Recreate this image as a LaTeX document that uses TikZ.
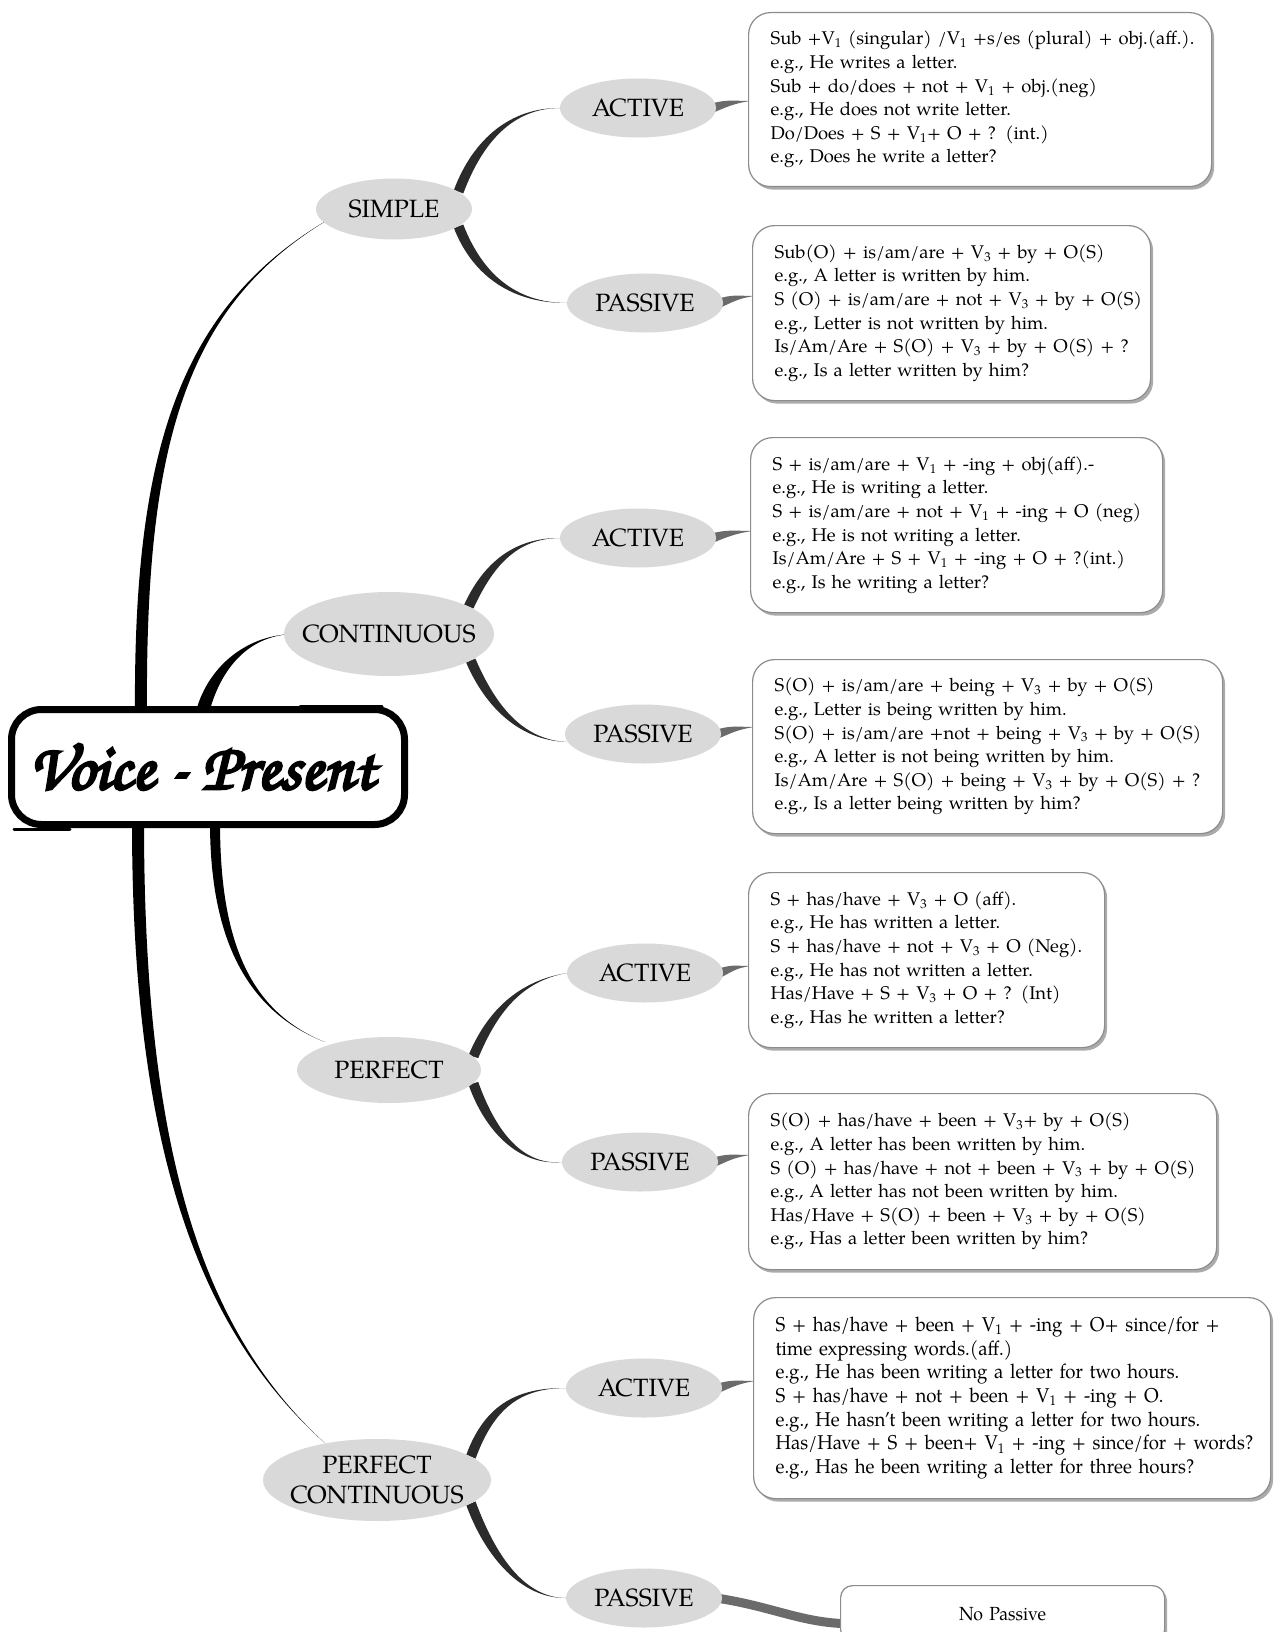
\documentclass[tikz,border=0pt]{standalone}
\usepackage{fontspec}
\setmainfont{texgyrepagella-regular.otf}[BoldFont=texgyrepagella-bold.otf,ItalicFont=texgyrepagella-italic.otf]
\newfontfamily\titlefont{texgyrechorus-mediumitalic.otf}[FakeBold=4]
\newfontfamily\condfont{texgyrepagella-regular.otf}[FakeStretch=0.93]
\usetikzlibrary{shapes.geometric,shadows,calc}
\pgfdeclarelayer{bg}
\pgfsetlayers{bg,main}
\definecolor{ellgray}{HTML}{D9D9D9}
\definecolor{subgray}{HTML}{2B2B2B}
\definecolor{horngray}{HTML}{6B6B6B}
\newcommand\Vs[1]{V\textsubscript{#1}}
\newcommand\bl[1]{\mbox{#1}}
% tapered branch: #1 style, #2 start, #3 c1, #4 c2, #5 end, #6 half-width offset
\newcommand\taper[6]{%
  \fill[#1] ($#2+#6$) .. controls ($#3+#6$) and ($#4+0.2*#6$) .. #5
     .. controls ($#4-0.2*#6$) and ($#3-#6$) .. ($#2-#6$) -- cycle;}
% short grey horn from ellipse #1 to box #2
\newcommand\horn[2]{%
  \fill[horngray] ($(#1.east)+(-6,-4)$) .. controls ($(#1.east)+(10,-9)$) and ($(#1.east -| #2.west)+(-14,-7)$)
     .. ($(#1.east -| #2.west)+(3,-7)$) .. controls ($(#1.east -| #2.west)+(-14,-5)$) and ($(#1.east)+(8,0)$)
     .. ($(#1.east)+(-6,6)$) -- cycle;}
\begin{document}
\begin{tikzpicture}[x=1pt,y=-1pt,
  ell/.style={ellipse, fill=ellgray, inner xsep=-16pt, inner ysep=-8pt, minimum width=156pt, minimum height=59pt,
     font=\fontsize{25}{30}\selectfont, align=center},
  tbox/.style={rectangle, rounded corners=22pt, fill=white, draw=black!45, line width=1.2pt,
     drop shadow={shadow xshift=2.5pt, shadow yshift=-3pt, fill=black!55, opacity=0.6},
     anchor=north west, inner xsep=22pt, inner ysep=0pt, align=left,
     font=\fontsize{18.4}{23.6}\selectfont},
  titlebox/.style={rectangle, rounded corners=30pt, draw=black, fill=white, line width=7pt,
     minimum width=393pt, minimum height=115pt, inner sep=0pt,
     font=\titlefont\fontsize{66}{70}\selectfont},
  mainbr/.style={fill=black},
  subbr/.style={fill=subgray}]

\begin{pgfonlayer}{bg}
\fill[white] (0,0) rectangle (1281,1632);
\end{pgfonlayer}
\useasboundingbox (0,0) rectangle (1281,1632);

% ---------- title ----------
\node[titlebox] (title) at (208,767) {\raisebox{-4pt}{Voice - Present}\hspace*{12pt}};
\draw[line width=3pt, line cap=round] (300,706) -- (382,706);
\draw[line width=3pt, line cap=round] (14,829) -- (70,829);
\coordinate (r1) at (141,714);
\coordinate (r2) at (202,714);
\coordinate (r3) at (215,822);
\coordinate (r4) at (138,822);

% ---------- ellipses ----------
\node[ell, minimum width=156pt, minimum height=61pt] (simple) at (394,209) {SIMPLE};
\node[ell, minimum width=210pt, minimum height=84pt] (cont) at (389,634) {CONTINUOUS};
\node[ell, minimum width=184pt, minimum height=66pt] (perf) at (389,1070) {PERFECT};
\node[ell, minimum width=228pt, minimum height=82pt] (pc) at (377,1480) {PERFECT\\CONTINUOUS};
\node[ell] (act1) at (638,108) {ACTIVE};
\node[ell] (pas1) at (645,303) {PASSIVE};
\node[ell] (act2) at (638,538) {ACTIVE};
\node[ell] (pas2) at (643,734) {PASSIVE};
\node[ell] (act3) at (645,973) {ACTIVE};
\node[ell] (pas3) at (640,1162) {PASSIVE};
\node[ell] (act4) at (644,1388) {ACTIVE};
\node[ell] (pas4) at (644,1598) {PASSIVE};

% ---------- boxes ----------
\node[tbox, minimum width=463pt, minimum height=174pt, text width=419pt] (b1) at (748,12) {%
\bl{Sub +\Vs1 (singular) /\Vs1 +s/es (plural) + obj.(aff.).}\\
\bl{e.g., He writes a letter.}\\
\bl{Sub + do/does + not + \Vs1 + obj.(neg)}\\
\bl{e.g., He does not write letter.}\\
\bl{Do/Does + S + \Vs1+ O + ? (int.)}\\
\bl{e.g., Does he write a letter?}};

\node[tbox, minimum width=398pt, minimum height=175pt, text width=354pt] (b2) at (752,225) {%
\bl{Sub(O) + is/am/are + \Vs3 + by + O(S)}\\
\bl{e.g., A letter is written by him.}\\
\bl{S (O) + is/am/are + not + \Vs3 + by + O(S)}\\
\bl{e.g., Letter is not written by him.}\\
\bl{Is/Am/Are + S(O) + \Vs3 + by + O(S) + ?}\\
\bl{e.g., Is a letter written by him?}};

\node[tbox, minimum width=412pt, minimum height=175pt, text width=368pt] (b3) at (750,437) {%
\bl{S + is/am/are + \Vs1 + -ing + obj(aff).-}\\
\bl{e.g., He is writing a letter.}\\
\bl{S + is/am/are + not + \Vs1 + -ing + O (neg)}\\
\bl{e.g., He is not writing a letter.}\\
\bl{Is/Am/Are + S + \Vs1 + -ing + O + ?(int.)}\\
\bl{e.g., Is he writing a letter?}};

\node[tbox, minimum width=470pt, minimum height=174pt, text width=426pt] (b4) at (752,659) {%
\bl{S(O) + is/am/are + being + \Vs3 + by + O(S)}\\
\bl{e.g., Letter is being written by him.}\\
\bl{S(O) + is/am/are +not + being + \Vs3 + by + O(S)}\\
\bl{e.g., A letter is not being written by him.}\\
\bl{Is/Am/Are + S(O) + being + \Vs3 + by + O(S) + ?}\\
\bl{e.g., Is a letter being written by him?}};

\node[tbox, minimum width=356pt, minimum height=175pt, text width=312pt] (b5) at (748,872) {%
\bl{S + has/have + \Vs3 + O (aff).}\\
\bl{e.g., He has written a letter.}\\
\bl{S + has/have + not + \Vs3 + O (Neg).}\\
\bl{e.g., He has not written a letter.}\\
\bl{Has/Have + S + \Vs3 + O + ? (Int)}\\
\bl{e.g., Has he written a letter?}};

\node[tbox, minimum width=468pt, minimum height=176pt, text width=424pt] (b6) at (748,1093) {%
\bl{S(O) + has/have + been + \Vs3+ by + O(S)}\\
\bl{e.g., A letter has been written by him.}\\
\bl{S (O) + has/have + not + been + \Vs3 + by + O(S)}\\
\bl{e.g., A letter has not been written by him.}\\
\bl{Has/Have + S(O) + been + \Vs3 + by + O(S)}\\
\bl{e.g., Has a letter been written by him?}};

\node[tbox, minimum width=517pt, minimum height=201pt, text width=473pt,
      font=\condfont\fontsize{20}{23.7}\selectfont] (b7) at (753,1297) {%
\bl{S + has/have + been + \Vs1 + -ing + O+ since/for +}\\
\bl{time expressing words.(aff.)}\\
\bl{e.g., He has been writing a letter for two hours.}\\
\bl{S + has/have + not + been + \Vs1 + -ing + O.}\\
\bl{e.g., He hasn’t been writing a letter for two hours.}\\
\bl{Has/Have + S + been+ \Vs1 + -ing + since/for + words?}\\
\bl{e.g., Has he been writing a letter for three hours?}};

\node[tbox, minimum width=324pt, minimum height=56pt, text width=280pt, align=center,
      rounded corners=12pt, font=\condfont\fontsize{19}{24}\selectfont] (b8) at (840,1585) {No Passive};

% ---------- connectors (background) ----------
\begin{pgfonlayer}{bg}
\taper{mainbr}{(r1)}{(139,440)}{(185,300)}{($(simple.west)+(22,5)$)}{(6,0)}
\taper{mainbr}{(r2)}{(213,670)}{(245,636)}{($(cont.west)+(8,0)$)}{(6.5,1)}
\taper{mainbr}{(r3)}{(215,935)}{(245,1010)}{($(perf.west)+(28,-28)$)}{(5,0)}
\taper{mainbr}{(r4)}{(138,1150)}{(200,1330)}{($(pc.west)+(62,-37)$)}{(6,0)}

\taper{subbr}{(simple.15)}{(478,140)}{(512,108)}{(act1.west)}{(4.7,1.7)}
\taper{subbr}{(simple.-15)}{(478,276)}{(515,303)}{(pas1.west)}{(4.7,-1.7)}
\taper{subbr}{(cont.19)}{(488,565)}{(515,538)}{(act2.west)}{(4.6,2)}
\taper{subbr}{(cont.-18)}{(490,705)}{(520,740)}{($(pas2.west)+(2,8)$)}{(4.6,-2)}
\taper{subbr}{(perf.9)}{(492,1012)}{(520,981)}{(act3.west)}{(4.8,1.5)}
\taper{subbr}{(perf.-9)}{(490,1130)}{(520,1166)}{(pas3.west)}{(4.8,-1.5)}
\taper{subbr}{(pc.14)}{(490,1405)}{(520,1388)}{(act4.west)}{(4.6,2)}
\taper{subbr}{(pc.-14)}{(490,1555)}{(522,1598)}{(pas4.west)}{(4.6,-2)}

\horn{act1}{b1}
\horn{pas1}{b2}
\horn{act2}{b3}
\horn{pas2}{b4}
\horn{act3}{b5}
\horn{pas3}{b6}
\horn{act4}{b7}
\draw[horngray, line width=9pt] ($(pas4.east)+(-6,0)$) .. controls (770,1606) and (800,1622) .. ($(b8.west)+(4,10)$);
\end{pgfonlayer}
\end{tikzpicture}
\end{document}
